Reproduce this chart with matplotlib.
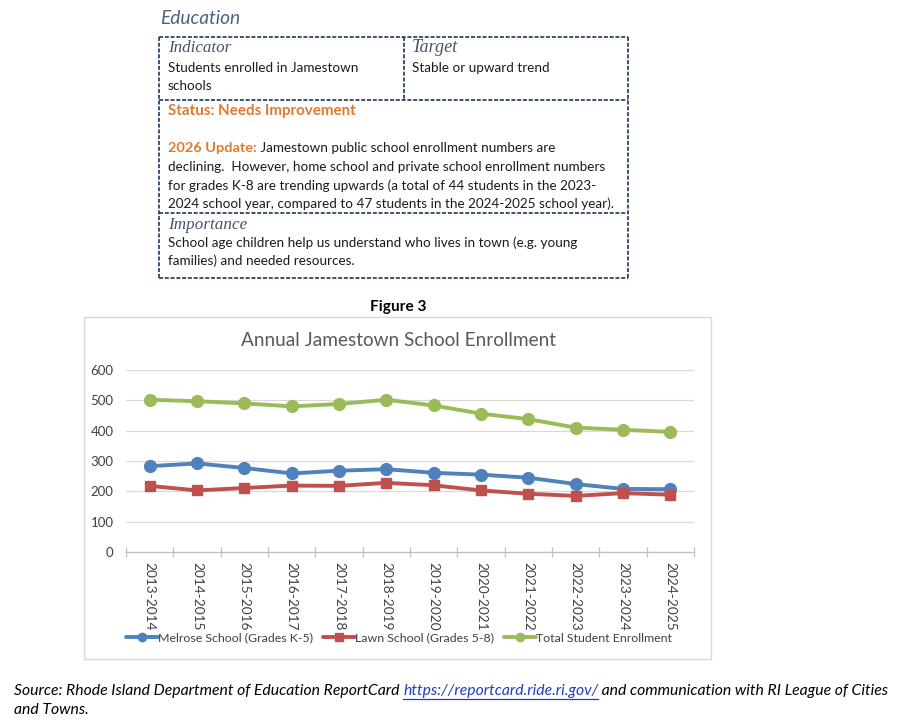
import numpy as np
import matplotlib
matplotlib.use('Agg')
import matplotlib.pyplot as plt
from matplotlib.lines import Line2D
from matplotlib.patches import Rectangle

# ---------------- data ----------------
categories = ['2013-2014', '2014-2015', '2015-2016', '2016-2017', '2017-2018', '2018-2019',
              '2019-2020', '2020-2021', '2021-2022', '2022-2023', '2023-2024', '2024-2025']
melrose = [283, 292, 277, 259, 268, 273, 261, 255, 245, 224, 208, 207]
lawn = [218, 203, 211, 219, 218, 228, 220, 203, 192, 185, 194, 189]
total = [502, 497, 490, 480, 488, 502, 483, 456, 438, 410, 403, 396]
series_names = ['Melrose School (Grades K-5)', 'Lawn School (Grades 5-8)', 'Total Student Enrollment']
y_ticks = [0, 100, 200, 300, 400, 500, 600]

W, H = 899, 723
fig = plt.figure(figsize=(W / 100, H / 100), dpi=100)
fig.patch.set_facecolor('white')
renderer = fig.canvas.get_renderer()

def fx(x):
    return x / W

def fy(y):
    return 1 - y / H

BODY = ['Lato', 'DejaVu Sans']
SERIF = ['Liberation Serif', 'DejaVu Serif']
TXT = '#1a1a1a'
NAVY = '#2B4466'
HEAD = '#44546A'
ORANGE = '#E07A2E'


def runs(x, y, parts, size, target_w=None):
    def draw(sz):
        objs = []
        cx = x
        for s, kw in parts:
            t = fig.text(fx(cx), fy(y), s, fontsize=sz, va='center', ha='left', **kw)
            bb = t.get_window_extent(renderer)
            objs.append((t, cx, bb.width))
            cx += bb.width
        return objs, cx - x
    objs, w = draw(size)
    if target_w:
        for o in objs:
            o[0].remove()
        objs, w = draw(size * target_w / w)
    return objs

# ---------------- header ----------------
runs(160, 19, [('Education', dict(family=BODY, style='italic', color='#4A6383'))], 12, 80)

# dashed table frame
dash = dict(color=NAVY, lw=1.3, linestyle=(0, (2.2, 1.0)))
def hline(x0, x1, y):
    fig.add_artist(Line2D([fx(x0), fx(x1)], [fy(y), fy(y)], **dash))
def vline(x, y0, y1):
    fig.add_artist(Line2D([fx(x), fx(x)], [fy(y0), fy(y1)], **dash))

hline(159, 628, 37)
hline(159, 628, 278)
hline(159, 628, 100)
hline(159, 628, 213)
vline(159, 37, 278)
vline(628, 37, 278)
vline(404, 37, 100)

head_kw = dict(family=SERIF, style='italic', color=HEAD)
body_kw = dict(family=BODY, color=TXT)
bold_or = dict(family=BODY, color=ORANGE, fontweight='bold')

# common body size fitted on the longest line
ref = runs(168, 204, [('2024 school year, compared to 47 students in the 2024-2025 school year).', body_kw)], 10, 445)
BS = ref[0][0].get_fontsize()

runs(168, 48, [('Indicator', head_kw)], 11, 63)
runs(412, 48, [('Target', head_kw)], 11, 46)
runs(168, 68, [('Students enrolled in Jamestown', body_kw)], BS)
runs(168, 86, [('schools', body_kw)], BS)
runs(412, 68, [('Stable or upward trend', body_kw)], BS)
runs(168, 111, [('Status: Needs Improvement', bold_or)], BS, 188)
upd = runs(168, 148, [('2026 Update:', bold_or)], BS, 89)
runs(168 + upd[0][2], 148, [(' Jamestown public school enrollment numbers are', body_kw)], BS)
runs(168, 167, [('declining.  However, home school and private school enrollment numbers', body_kw)], BS)
runs(168, 186, [('for grades K-8 are trending upwards (a total of 44 students in the 2023-', body_kw)], BS)
runs(168, 225, [('Importance', head_kw)], 11, 79)
runs(168, 243, [('School age children help us understand who lives in town (e.g. young', body_kw)], BS)
runs(168, 261, [('families) and needed resources.', body_kw)], BS)

runs(370, 307, [('Figure 3', dict(family=BODY, color='black', fontweight='bold'))], 10, 56)

# ---------------- chart frame ----------------
fig.add_artist(Rectangle((fx(84), fy(659)), (711 - 84) / W, (659 - 317) / H,
                         transform=fig.transFigure, fill=False, edgecolor='#D9D9D9', lw=1.0))
runs(241, 340, [('Annual Jamestown School Enrollment', dict(family=BODY, color='#595959'))], 13, 315)

ax = fig.add_axes([fx(126), fy(552), (694 - 126) / W, (552 - 370) / H])
xs = np.arange(len(categories))
colors = ['#4F81BD', '#C0504D', '#9BBB59']
markers = ['o', 's', 'o']
for vals, c, m, name in zip([melrose, lawn, total], colors, markers, series_names):
    ax.plot(xs, vals, color=c, lw=2.8, marker=m, ms=8.5 if m == 'o' else 7.5,
            solid_capstyle='round', label=name, zorder=3)

ax.set_xlim(-0.5, len(categories) - 0.5)
ax.set_ylim(0, 600)
ax.set_yticks(y_ticks)
ax.yaxis.grid(True, color='#D9D9D9', lw=0.9)
ax.set_axisbelow(True)
for s in ['top', 'right', 'left']:
    ax.spines[s].set_visible(False)
ax.spines['bottom'].set_color('#BFBFBF')
ax.spines['bottom'].set_linewidth(0.9)
ax.set_xticks(xs)
ax.set_xticklabels(categories, rotation=270, fontsize=9.8, color='#404040', family=BODY)
ax.set_xticks(np.arange(-0.5, len(categories), 1), minor=True)
ax.tick_params(axis='x', which='major', length=0, pad=7)
ax.tick_params(axis='x', which='minor', length=7, direction='inout', color='#BFBFBF', width=0.9)
ax.tick_params(axis='y', length=0, pad=9, labelsize=9.5, labelcolor='#404040')
for lab in ax.get_yticklabels():
    lab.set_family(BODY)

leg = fig.legend(loc='center', bbox_to_anchor=(fx(399), fy(638)), ncol=3, frameon=False,
                 handlelength=2.6, handletextpad=0.0, columnspacing=0.8,
                 prop=dict(family=BODY, size=8.9))
for t in leg.get_texts():
    t.set_color('#404040')
for h in leg.legend_handles:
    h.set_markersize(6)

# ---------------- source ----------------
src_kw = dict(family=BODY, style='italic', color='black')
objs = runs(14, 691, [('Source: Rhode Island Department of Education ReportCard ', src_kw),
                      ('https://reportcard.ride.ri.gov/', dict(family=BODY, style='italic', color='#1F3FBF')),
                      (' and communication with RI League of Cities', src_kw)], 10, 875)
t_link, lx, lw_ = objs[1]
fig.add_artist(Line2D([fx(lx), fx(lx + lw_)], [fy(699), fy(699)], color='#1F3FBF', lw=0.9))
runs(14, 710, [('and Towns.', src_kw)], objs[0][0].get_fontsize())

fig.savefig('out.png', dpi=100, facecolor='white')
